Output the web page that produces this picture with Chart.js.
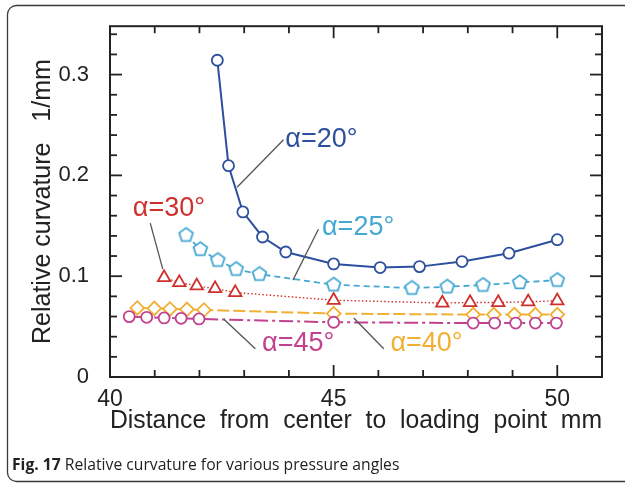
<!DOCTYPE html>
<html>
<head>
<meta charset="utf-8">
<script src="https://cdn.jsdelivr.net/npm/chart.js@4.4.1/dist/chart.umd.min.js"></script>
<style>
  html, body { margin: 0; padding: 0; background: #fff; }
  canvas { display: block; }
</style>
</head>
<body>
<canvas id="curvatureChart" width="625" height="484"></canvas>
<script>
// distance from center to loading point (mm) / relative curvature (1/mm)
const dist20 = [42.40, 42.65, 42.97, 43.41, 43.93, 45.00, 46.04, 46.92, 47.87, 48.92, 50.00];
const curv20 = [0.3142, 0.2096, 0.1638, 0.1389, 0.1240, 0.1122, 0.1086, 0.1095, 0.1145, 0.1228, 0.1362];

const dist25 = [41.70, 42.02, 42.41, 42.82, 43.34, 45.00, 46.75, 47.54, 48.34, 49.16, 50.00];
const curv25 = [0.1408, 0.1267, 0.1159, 0.1070, 0.1020, 0.0915, 0.0882, 0.0895, 0.0912, 0.0938, 0.0961];

const dist30 = [41.21, 41.55, 41.94, 42.35, 42.80, 45.00, 47.43, 48.05, 48.68, 49.35, 50.00];
const curv30 = [0.0986, 0.0937, 0.0904, 0.0877, 0.0838, 0.0762, 0.0734, 0.0739, 0.0739, 0.0746, 0.0756];

const dist40 = [40.61, 40.99, 41.34, 41.72, 42.10, 45.00, 48.12, 48.58, 49.04, 49.51, 50.00];
const curv40 = [0.0685, 0.0681, 0.0675, 0.0671, 0.0665, 0.0629, 0.0619, 0.0619, 0.0619, 0.0619, 0.0619];

const dist45 = [40.43, 40.82, 41.21, 41.59, 41.99, 45.00, 48.12, 48.60, 49.07, 49.51, 49.98];
const curv45 = [0.0599, 0.0592, 0.0586, 0.0582, 0.0576, 0.0543, 0.0535, 0.0535, 0.0535, 0.0535, 0.0535];

// axes
const xTickValues = [40, 45, 50];
const xTickLabels = ["40", "45", "50"];
const xMinorTicks = [41, 42, 43, 44, 46, 47, 48, 49];
const yTickValues = [0, 0.1, 0.2, 0.3];
const yTickLabels = ["0", "0.1", "0.2", "0.3"];
const yMinorTicks = [0.02, 0.04, 0.06, 0.08, 0.12, 0.14, 0.16, 0.18, 0.22, 0.24, 0.26, 0.28, 0.32, 0.34];

const FONT = '"Liberation Sans", Arial, sans-serif';

const zip = (xs, ys) => xs.map((x, i) => ({ x: x, y: ys[i] }));

function pentagon(color, r, lw) {
    const c = document.createElement("canvas");
    const s = Math.ceil(2 * r + lw + 2);
    c.width = c.height = s;
    const g = c.getContext("2d");
    g.beginPath();
    for (let i = 0; i < 5; i++) {
        const a = -Math.PI / 2 + (i * 2 * Math.PI) / 5;
        const px = s / 2 + r * Math.cos(a);
        const py = s / 2 + r * Math.sin(a);
        if (i === 0) g.moveTo(px, py); else g.lineTo(px, py);
    }
    g.closePath();
    g.fillStyle = "#fff";
    g.fill();
    g.lineWidth = lw;
    g.strokeStyle = color;
    g.stroke();
    return c;
}

// callout labels with leader lines (data coordinates)
const callouts = [
    { text: "α=20°", color: "#2c4f9e", at: [43.92, 0.2356], line: [[42.84, 0.1882], [43.88, 0.2353]] },
    { text: "α=25°", color: "#45a8d2", at: [44.74, 0.1487], line: [[44.09, 0.0961], [44.66, 0.1465]] },
    { text: "α=30°", color: "#d0302c", at: [40.51, 0.1675], line: [[41.18, 0.1070], [40.90, 0.1527]] },
    { text: "α=45°", color: "#c2428f", at: [43.40, 0.0333], line: [[42.54, 0.0576], [43.25, 0.0280]] },
    { text: "α=40°", color: "#f2b033", at: [46.27, 0.0333], line: [[45.45, 0.0586], [46.12, 0.0280]] },
];

const decorations = {
    id: "decorations",
    beforeDraw(chart) {
        const ctx = chart.ctx;
        ctx.save();
        ctx.fillStyle = "#fff";
        ctx.fillRect(0, 0, chart.width, chart.height);
        ctx.strokeStyle = "#3a3a3a";
        ctx.lineWidth = 1.3;
        ctx.beginPath();
        ctx.roundRect(7.5, 5.5, 630, 476, 9);
        ctx.stroke();

        ctx.fillStyle = "#222";
        ctx.textBaseline = "alphabetic";
        ctx.font = 'bold 15.7px "Open Sans"';
        ctx.fillText("Fig. 17", 12, 470);
        const w = ctx.measureText("Fig. 17 ").width;
        ctx.font = '15.7px "Open Sans"';
        ctx.fillText("Relative curvature for various pressure angles", 12 + w, 470);
        ctx.restore();
    },
    afterDraw(chart) {
        const ctx = chart.ctx;
        const { left, right, top, bottom } = chart.chartArea;
        const xs = chart.scales.x;
        const ys = chart.scales.y;
        ctx.save();

        // leader lines + labels
        callouts.forEach((c) => {
            ctx.strokeStyle = "#555";
            ctx.lineWidth = 1.3;
            ctx.beginPath();
            ctx.moveTo(xs.getPixelForValue(c.line[0][0]), ys.getPixelForValue(c.line[0][1]));
            ctx.lineTo(xs.getPixelForValue(c.line[1][0]), ys.getPixelForValue(c.line[1][1]));
            ctx.stroke();
            ctx.fillStyle = c.color;
            ctx.font = "27px " + FONT;
            ctx.textAlign = "left";
            ctx.textBaseline = "middle";
            ctx.fillText(c.text, xs.getPixelForValue(c.at[0]), ys.getPixelForValue(c.at[1]));
        });

        // frame and inward ticks
        ctx.strokeStyle = "#222";
        ctx.lineWidth = 2;
        ctx.strokeRect(left, top, right - left, bottom - top);
        ctx.lineWidth = 1.8;
        const tick = (x1, y1, x2, y2) => {
            ctx.beginPath();
            ctx.moveTo(x1, y1);
            ctx.lineTo(x2, y2);
            ctx.stroke();
        };
        xTickValues.concat(xMinorTicks).forEach((v) => {
            const px = xs.getPixelForValue(v);
            const len = xTickValues.includes(v) ? 12 : 7;
            tick(px, bottom, px, bottom - len);
            tick(px, top, px, top + len);
        });
        yTickValues.concat(yMinorTicks).forEach((v) => {
            const py = ys.getPixelForValue(v);
            const len = yTickValues.includes(v) ? 12 : 7;
            tick(left, py, left + len, py);
            tick(right, py, right - len, py);
        });
        ctx.restore();
    },
};

new Chart(document.getElementById("curvatureChart"), {
    type: "scatter",
    data: {
        datasets: [
            {
                label: "α=20°",
                data: zip(dist20, curv20),
                showLine: true,
                borderColor: "#2c4f9e",
                borderWidth: 2,
                pointStyle: "circle",
                pointRadius: 5.5,
                pointBorderWidth: 1.8,
                pointBackgroundColor: "#fff",
                pointBorderColor: "#2c4f9e",
            },
            {
                label: "α=25°",
                data: zip(dist25, curv25),
                showLine: true,
                borderColor: "#45a8d2",
                borderWidth: 1.8,
                borderDash: [6, 4],
                pointStyle: pentagon("#45a8d2", 7.2, 1.8),
            },
            {
                label: "α=30°",
                data: zip(dist30, curv30),
                showLine: true,
                borderColor: "#d0302c",
                borderWidth: 1.4,
                borderDash: [1.5, 2.2],
                pointStyle: "triangle",
                pointRadius: 7.2,
                pointBorderWidth: 1.8,
                pointBackgroundColor: "#fff",
                pointBorderColor: "#d0302c",
            },
            {
                label: "α=45°",
                data: zip(dist45, curv45),
                showLine: true,
                borderColor: "#c2428f",
                borderWidth: 2,
                borderDash: [14, 4, 3, 4],
                pointStyle: "circle",
                pointRadius: 5.5,
                pointBorderWidth: 1.8,
                pointBackgroundColor: "#fff",
                pointBorderColor: "#c2428f",
            },
            {
                label: "α=40°",
                data: zip(dist40, curv40),
                showLine: true,
                borderColor: "#f2b033",
                borderWidth: 2,
                borderDash: [12, 4],
                pointStyle: "rectRot",
                pointRadius: 6.8,
                pointBorderWidth: 1.8,
                pointBackgroundColor: "#fff",
                pointBorderColor: "#f2b033",
            },
        ],
    },
    options: {
        responsive: false,
        animation: false,
        layout: { padding: { top: 25, right: 23, left: 0, bottom: 0 } },
        plugins: {
            legend: { display: false },
            tooltip: { enabled: false },
        },
        scales: {
            x: {
                type: "linear",
                min: 40,
                max: 51,
                grid: { display: false },
                border: { display: false },
                afterFit: (scale) => { scale.height = 107; },
                afterBuildTicks: (scale) => { scale.ticks = xTickValues.map((v) => ({ value: v })); },
                ticks: {
                    autoSkip: false,
                    maxRotation: 0,
                    padding: 1,
                    color: "#222",
                    font: { family: FONT, size: 23 },
                    callback: (v, i) => xTickLabels[i],
                },
                title: {
                    display: true,
                    text: "Distance  from  center  to  loading  point  mm",
                    color: "#222",
                    font: { family: FONT, size: 25 },
                    padding: { top: 0, bottom: 48 },
                },
            },
            y: {
                type: "linear",
                min: 0,
                max: 0.348,
                grid: { display: false },
                border: { display: false },
                afterFit: (scale) => { scale.width = 110; },
                afterBuildTicks: (scale) => { scale.ticks = yTickValues.map((v) => ({ value: v })); },
                ticks: {
                    autoSkip: false,
                    padding: 13,
                    color: "#222",
                    font: { family: FONT, size: 22 },
                    callback: (v, i) => yTickLabels[i],
                },
                title: {
                    display: true,
                    text: "Relative curvature   1/mm",
                    color: "#222",
                    font: { family: FONT, size: 25 },
                    padding: { top: 28, bottom: 0 },
                },
            },
        },
    },
    plugins: [decorations],
});
</script>
</body>
</html>
